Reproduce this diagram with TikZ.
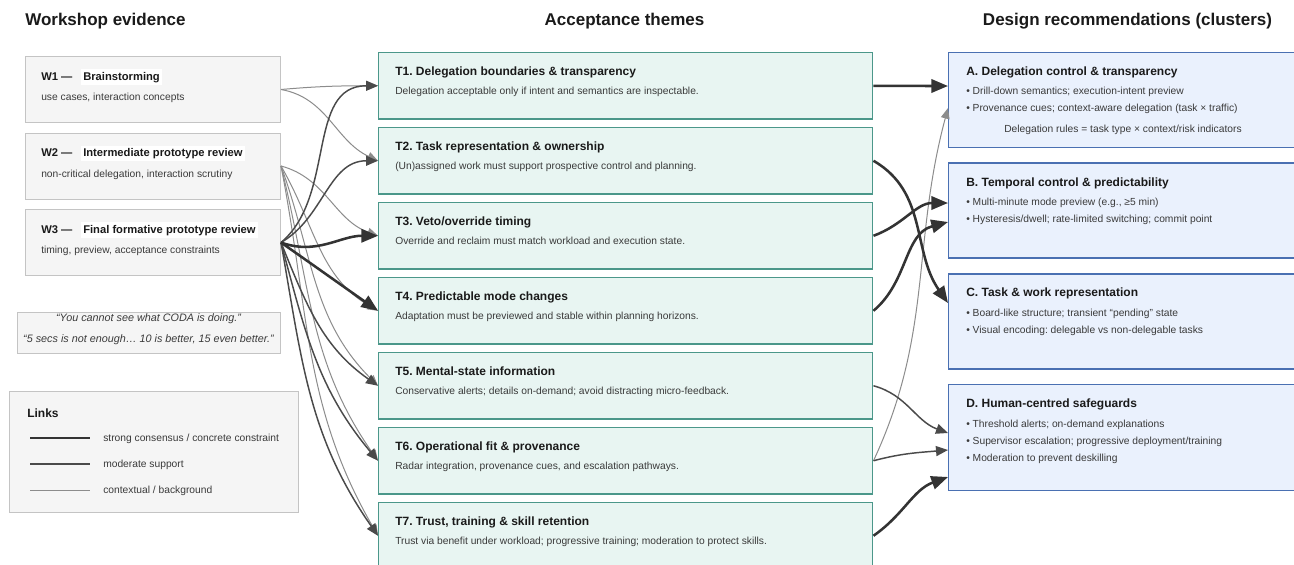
\documentclass[tikz,border=0pt]{standalone}
\usepackage{fontspec}
\setmainfont{Liberation Sans}
\usetikzlibrary{arrows.meta,calc}
\frenchspacing

\definecolor{ink}{HTML}{1A1A1A}
\definecolor{body}{HTML}{3A3A3A}
\definecolor{wfill}{HTML}{F5F5F5}
\definecolor{wborder}{HTML}{C4C4C4}
\definecolor{tfill}{HTML}{E8F5F2}
\definecolor{tborder}{HTML}{4B978A}
\definecolor{rfill}{HTML}{EAF1FD}
\definecolor{rborder}{HTML}{4A70B2}
\definecolor{cstrong}{HTML}{333333}
\definecolor{cmod}{HTML}{4A4A4A}
\definecolor{cthin}{HTML}{8C8C8C}

\tikzset{
  wbox/.style={draw=wborder, fill=wfill, line width=0.75pt, minimum width=191.25pt,
    minimum height=49.5pt, anchor=north west, inner sep=0pt},
  tbox/.style={draw=tborder, fill=tfill, line width=1.1pt, minimum width=370.5pt,
    minimum height=50pt, anchor=north west, inner sep=0pt},
  rbox/.style={draw=rborder, fill=rfill, line width=1.1pt, minimum width=270pt,
    minimum height=71.25pt, anchor=north west, inner sep=0pt},
  head/.style={font=\fontsize{12.75}{15}\selectfont\bfseries, text=ink, inner sep=0pt},
  ttl/.style={font=\fontsize{9}{11}\selectfont\bfseries, text=ink, anchor=base west, inner sep=0pt},
  wttl/.style={font=\fontsize{8.4}{10}\selectfont\bfseries, text=ink, anchor=base west, inner sep=0pt},
  txt/.style={font=\fontsize{7.7}{9}\selectfont, text=body, anchor=base west, inner sep=0pt},
  quote/.style={font=\fontsize{8.1}{10}\selectfont\itshape, text=body, anchor=base, inner sep=0pt},
  lnkstrong/.style={draw=cstrong, line width=1.9pt, -{Triangle[length=12.5pt,width=10pt]}},
  lnkmod/.style={draw=cmod, line width=1.1pt, -{Triangle[length=9pt,width=7.5pt]}},
  lnkthin/.style={draw=cthin, line width=0.75pt, -{Triangle[length=8pt,width=6.5pt]}},
}

\begin{document}
\begin{tikzpicture}[x=0.75pt, y=0.75pt]
\useasboundingbox (0,0) rectangle (1294,-564);
\clip (0,0) rectangle (1294,-564);
\fill[white] (0,0) rectangle (1294,-564);

% column headings
\node[head, anchor=base west] (hw) at (25,-26) {Workshop evidence};
\node[head, anchor=base] (ht) at (624.5,-26) {Acceptance themes};
\node[head, anchor=base] (hr) at (1127.5,-26) {Design recommendations (clusters)};

% workshop evidence boxes
\node[wbox] (w1) at (25,-56) {};
\node[wbox] (w2) at (25,-132.5) {};
\node[wbox] (w3) at (25,-209) {};
\foreach \w/\name/\sub in {w1/Brainstorming/{use cases, interaction concepts},
    w2/Intermediate prototype review/{non-critical delegation, interaction scrutiny},
    w3/Final formative prototype review/{timing, preview, acceptance constraints}} {
  \node[wttl] (\w id) at ($(\w.north west)+(16,-24)$) {\MakeUppercase{\w}\ —};
  \node[wttl, fill=white, inner xsep=1.5pt, inner ysep=2pt] (\w nm) at ($(\w.north west)+(56,-24)$) {\name};
  \node[txt] (\w sub) at ($(\w.north west)+(16,-44.5)$) {\sub};
}

% quotations
\node[draw=wborder, fill=wfill, line width=0.75pt, minimum width=197.25pt, minimum height=30.75pt,
  anchor=north west, inner sep=0pt] (qb) at (17,-311.5) {};
\node[quote] (q1) at (148.5,-321.5) {“You cannot see what CODA is doing.”};
\node[quote] (q2) at (148.5,-342.5) {“5 secs is not enough… 10 is better, 15 even better.”};

% legend
\node[draw=wborder, fill=wfill, line width=0.75pt, minimum width=216.75pt, minimum height=90.75pt,
  anchor=north west, inner sep=0pt] (lg) at (9,-391) {};
\node[ttl] (lgt) at (27,-417) {Links};
\coordinate (l1a) at (30,-438); \coordinate (l1b) at (90,-438);
\coordinate (l2a) at (30,-464); \coordinate (l2b) at (90,-464);
\coordinate (l3a) at (30,-490); \coordinate (l3b) at (90,-490);
\draw[cstrong, line width=2.2pt] (l1a) -- (l1b);
\draw[cmod, line width=1.1pt] (l2a) -- (l2b);
\draw[cthin, line width=0.75pt] (l3a) -- (l3b);
\node[txt] (lg1) at (103,-441.5) {strong consensus / concrete constraint};
\node[txt] (lg2) at (103,-467.5) {moderate support};
\node[txt] (lg3) at (103,-493.5) {contextual / background};

% acceptance themes
\foreach \i/\ttltext/\bodytext in {
  1/{T1. Delegation boundaries \& transparency}/{Delegation acceptable only if intent and semantics are inspectable.},
  2/{T2. Task representation \& ownership}/{(Un)assigned work must support prospective control and planning.},
  3/{T3. Veto/override timing}/{Override and reclaim must match workload and execution state.},
  4/{T4. Predictable mode changes}/{Adaptation must be previewed and stable within planning horizons.},
  5/{T5. Mental-state information}/{Conservative alerts; details on-demand; avoid distracting micro-feedback.},
  6/{T6. Operational fit \& provenance}/{Radar integration, provenance cues, and escalation pathways.},
  7/{T7. Trust, training \& skill retention}/{Trust via benefit under workload; progressive training; moderation to protect skills.}} {
  \node[tbox] (t\i) at (378,{-51.7-75*(\i-1)}) {};
  \node[ttl] (t\i h) at ($(t\i.north west)+(17,-24)$) {\ttltext};
  \node[txt] (t\i b) at ($(t\i.north west)+(17,-43)$) {\bodytext};
}

% design recommendation clusters
\node[rbox] (ra) at (948,-51.7) {};
\node[rbox] (rb) at (948,-162.3) {};
\node[rbox] (rc) at (948,-273.3) {};
\node[rbox, minimum height=79.5pt] (rd) at (948,-384) {};

\node[ttl] (rah) at ($(ra.north west)+(18,-24)$) {A. Delegation control \& transparency};
\node[txt] (ra1) at ($(ra.north west)+(18,-43)$) {• Drill-down semantics; execution-intent preview};
\node[txt] (ra2) at ($(ra.north west)+(18,-60)$) {• Provenance cues; context-aware delegation (task × traffic)};
\node[txt, anchor=base] (ra3) at ($(ra.north west)+(175,-81)$) {Delegation rules = task type × context/risk indicators};

\node[ttl] (rbh) at ($(rb.north west)+(18,-24)$) {B. Temporal control \& predictability};
\node[txt] (rb1) at ($(rb.north west)+(18,-43)$) {• Multi-minute mode preview (e.g., ≥5 min)};
\node[txt] (rb2) at ($(rb.north west)+(18,-60)$) {• Hysteresis/dwell; rate-limited switching; commit point};

\node[ttl] (rch) at ($(rc.north west)+(18,-23)$) {C. Task \& work representation};
\node[txt] (rc1) at ($(rc.north west)+(18,-43)$) {• Board-like structure; transient “pending” state};
\node[txt] (rc2) at ($(rc.north west)+(18,-60)$) {• Visual encoding: delegable vs non-delegable tasks};

\node[ttl] (rdh) at ($(rd.north west)+(18,-23)$) {D. Human-centred safeguards};
\node[txt] (rd1) at ($(rd.north west)+(18,-43)$) {• Threshold alerts; on-demand explanations};
\node[txt] (rd2) at ($(rd.north west)+(18,-60)$) {• Supervisor escalation; progressive deployment/training};
\node[txt] (rd3) at ($(rd.north west)+(18,-77)$) {• Moderation to prevent deskilling};

% arrival points on the cluster boxes
\coordinate (a1) at ($(ra.north west)+(0,-34.3)$);
\coordinate (a2) at ($(ra.north west)+(0,-56.3)$);
\coordinate (b1) at ($(rb.north west)+(0,-40.7)$);
\coordinate (b2) at ($(rb.north west)+(0,-59.7)$);
\coordinate (c1) at ($(rc.north west)+(0,-29.7)$);
\coordinate (d1) at ($(rd.north west)+(0,-49)$);
\coordinate (d2) at ($(rd.north west)+(0,-66)$);
\coordinate (d3) at ($(rd.north west)+(0,-93)$);

% evidence -> themes
\draw[lnkthin] (w1.east) to[out=5,in=180] (t1.west);
\draw[lnkthin] (w1.east) to[out=-10,in=155] (t2.west);
\draw[lnkthin] (w2.east) to[out=-15,in=160] (t3.west);
\draw[lnkthin] (w2.east) to[out=-60,in=150] (t4.west);
\draw[lnkthin] (w2.east) to[out=-70,in=135] (t5.west);
\draw[lnkthin] (w2.east) to[out=-76,in=125] (t6.west);
\draw[lnkthin] (w2.east) to[out=-79,in=120] (t7.west);
\draw[lnkmod] (w3.east) to[out=40,in=180] (t1.west);
\draw[lnkmod] (w3.east) to[out=30,in=180] (t2.west);
\draw[lnkmod] (w3.east) to[out=-68,in=145] (t5.west);
\draw[lnkmod] (w3.east) to[out=-75,in=130] (t6.west);
\draw[lnkmod] (w3.east) to[out=-80,in=125] (t7.west);
\draw[lnkstrong] (w3.east) to[out=-20,in=180] (t3.west);
\draw[lnkstrong] (w3.east) to[out=-35,in=145] (t4.west);

% themes -> clusters
\draw[lnkthin] (t6.east) to[out=65,in=-105] (a2);
\draw[lnkmod] (t5.east) to[out=-15,in=160] (d1);
\draw[lnkmod] (t6.east) to[out=15,in=185] (d2);
\draw[lnkstrong] (t1.east) to[out=0,in=180] (a1);
\draw[lnkstrong] (t2.east) to[out=-30,in=125] (c1);
\draw[lnkstrong] (t3.east) to[out=20,in=180] (b1);
\draw[lnkstrong] (t4.east) to[out=40,in=195] (b2);
\draw[lnkstrong] (t7.east) to[out=35,in=200] (d3);
\end{tikzpicture}
\end{document}
